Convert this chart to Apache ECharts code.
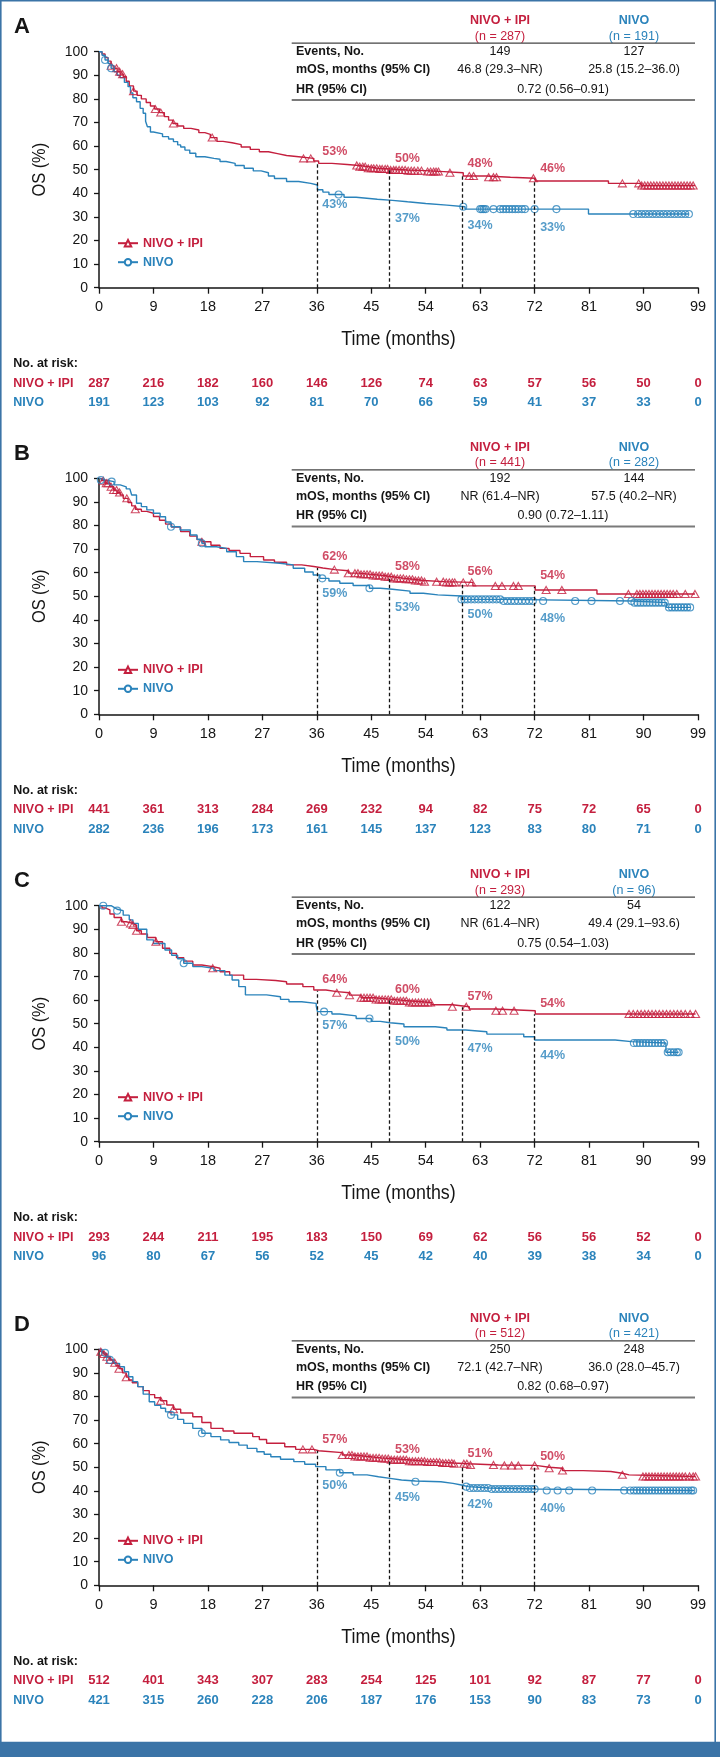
<!DOCTYPE html>
<html><head><meta charset="utf-8">
<script src="https://cdn.jsdelivr.net/npm/echarts@6/dist/echarts.min.js"></script>
<style>html,body{margin:0;padding:0;background:#fff}#c{width:720px;height:1757px}</style>
</head><body><div id="c"></div>
<script>
// ---------- DATA ----------
const timeTicks = [0,9,18,27,36,45,54,63,72,81,90,99];
const landmarks = [36,48,60,72];

// Kaplan-Meier breakpoints [month, OS %] (value holds until next point)
const ipiA = [[0,100],[0.5,99],[1,97.5],[1.5,96],[2,94],[2.5,93],[3,91.5],[3.5,90.5],[4,89.5],[4.5,87.5],[5,85.5],[5.7,83.3],[6.3,81.5],[7,80],[7.8,78.5],[8.5,77],[9.2,75.7],[10,74.2],[10.8,72.5],[11.5,71],[12.2,69.6],[13,68.5],[14,67.5],[15.2,66.8],[16.5,65.7],[17.5,65],[18.4,63.6],[19.5,62],[20.5,61.4],[22,60.6],[23.5,59.6],[25,58.6],[26.5,57.6],[28,56.8],[29.5,56],[31,55.5],[33,54.8],[35.5,53.7],[36.3,52.7],[38.5,52.2],[41,51.8],[43,51.3],[44.5,50.6],[46,50.3],[48.2,49.9],[51,49.6],[54,49.2],[57,48.7],[60.2,47.3],[64,46.8],[68,46.4],[72.1,45.2],[84.2,44.2],[89.6,43.3],[98.5,43.3]];
const nivoA = [[0,100],[0.5,98.5],[1,96.5],[1.5,95],[2,93],[2.5,91.5],[3,90],[3.5,89],[4.2,87],[4.8,85.2],[5.2,82.5],[5.6,80.5],[6.2,78.8],[6.8,76],[7.3,73.9],[7.7,70.5],[8,68.2],[8.5,66],[9,65.2],[10.5,64],[11.5,63],[12.3,61.9],[13,60.5],[13.5,59.6],[14.2,58.3],[15,57],[16,55.5],[17.5,54.8],[19,54.4],[20,53.5],[21,52.7],[22.5,51.8],[24,50.6],[25.5,49.5],[26.8,48.7],[28,47.3],[29,46.3],[31,45],[33,44.2],[35,43.5],[36.1,41.5],[37,40.5],[38,39.5],[40.5,38.3],[42.5,37.5],[46,37],[48.5,36.4],[51,35.7],[54,35],[57.5,34.3],[60.5,33.3],[80.9,31.2],[97.5,31.2]];
const ipiB = [[0,100],[0.4,99],[1,97.9],[1.8,96.4],[2.4,95],[3,94],[3.5,92.9],[4,91.5],[4.8,89.7],[5.4,88.3],[6,86.9],[7,86],[7.9,85.2],[9,83.8],[10,82.2],[11,80.6],[12,79.3],[13.5,77.4],[15,75.5],[16.2,74],[17,73.1],[18.5,71.6],[20,70.3],[21.5,69.4],[23.3,68.2],[25,66.8],[27.2,65.4],[29,64.4],[31,63.3],[33.5,62.6],[35.5,62],[37,61.3],[39,60.8],[41.2,59.8],[43,59.3],[45,58.8],[47,58.3],[48.5,57.6],[50.5,57.2],[52,56.7],[53.6,56.2],[57,55.9],[61.8,54.4],[72.1,52.7],[82.3,51],[98.5,51]];
const nivoB = [[0,100],[0.3,99.3],[1,98.6],[2.5,97.2],[3.5,96.4],[4.5,95.5],[5.1,95],[5.4,92.9],[6.2,89.4],[7,88],[7.9,86.6],[9,85.2],[10.1,83.7],[11,81.5],[11.9,79.5],[13.4,78.1],[15.1,76],[16.2,74.2],[17,72.5],[17.5,71],[19.4,70.3],[21.1,68.9],[22.7,66.8],[23.9,64.7],[26.1,64],[29.9,63.3],[32.1,61.9],[34,60.3],[35.4,59],[36.5,57.6],[38,56.5],[39.8,55.5],[42,54.6],[44.7,53.4],[46.5,53],[48.5,52.2],[51.4,51.3],[53.6,50.6],[56,50.1],[59.9,48.7],[66.8,48],[88.2,47.3],[93.8,45.3],[97.8,45.3]];
const ipiC = [[0,100],[0.5,99],[1.1,98.2],[1.8,96.5],[2.5,95],[3.7,93.2],[4.5,92.5],[5.6,91.8],[6.2,89.4],[7,88],[8,86.5],[9.4,84.7],[10.5,82],[11.7,79.8],[12.8,78],[14,76.5],[15.5,74.9],[17,74.2],[18.8,73.5],[20,72],[21.6,70.6],[23.9,68.8],[26,68.3],[29.2,67.8],[31,66.8],[33.7,65.7],[35.5,64.3],[37.5,63.6],[39.3,63.1],[41.4,62.1],[43.3,61],[45.5,60.3],[48.5,59.7],[51,59],[55,58],[58.4,57.2],[61.2,56.2],[65.5,55.5],[72.1,54.1],[98.6,54.1]];
const nivoC = [[0,100],[2,99.3],[2.5,98.5],[3,97.9],[4,96],[5,94],[5.6,92.5],[6.5,90],[7.9,85.5],[9,84],[10.9,81.2],[12,79],[13,77.5],[14,75.6],[15.5,74.2],[17,73.5],[19,72.5],[20.8,70.6],[22,68.5],[23.1,65.7],[24.2,62.2],[27.7,61.4],[30,60.3],[31.4,59.3],[33.5,58.6],[35.9,57.6],[36.1,55.1],[38.5,54.1],[39.8,53.3],[42.5,52.2],[45,51],[46.5,50.4],[48.1,49.9],[50.4,48.7],[55.6,48.2],[57.5,47.3],[60.6,46.6],[64.1,45.6],[70.2,44.5],[72,43.1],[85.3,42.4],[88,41.8],[93.7,37.9],[95.8,37.9]];
const ipiD = [[0,100],[0.3,99],[0.8,98],[1.3,96.8],[1.8,95.5],[2.3,94.3],[2.8,93],[3.3,91.8],[3.9,90],[4.5,88.2],[4.9,87],[5.5,85.8],[6.4,84.2],[7.3,82.5],[8.3,80.8],[9.2,79.5],[10.2,78.2],[11.2,76.4],[12.3,74.6],[13.5,73],[15.5,71.4],[17,69],[18.5,66.5],[20.5,65.4],[22.3,64.4],[25.4,63],[26.5,61.8],[27.7,60.2],[30.7,58.7],[32.5,57.6],[35.5,57],[36.3,56.2],[40.2,55.2],[42,54.6],[44.5,54],[46.6,53.7],[48.3,53.2],[51,52.6],[54,52.2],[56.5,51.8],[58.6,51.5],[61,51],[66,50.8],[72.2,50],[74.4,49.6],[76.6,48.6],[80,48.2],[84.6,47.5],[86.5,46.8],[87.6,46.1],[98.6,46.1]];
const nivoD = [[0,100],[0.5,98.5],[1.1,96.9],[1.8,95.5],[2.5,94],[3.4,92.6],[4.2,90.5],[4.9,88.4],[5.6,86.3],[6.4,84.2],[7.3,81],[8.3,77.8],[9.2,76.3],[10.2,75],[11,73.5],[11.9,72.2],[13,70.3],[14,68.6],[15.5,66.5],[17,64.4],[18.5,63],[20.1,61.6],[21.5,60.5],[23.1,59.4],[24.5,58],[26.1,56.6],[27.3,55.5],[28.4,54.5],[30,53.4],[32.2,52.4],[34,51.3],[35.8,50.3],[37.5,48.9],[39.8,47.7],[42,46.8],[44.3,46],[46.2,45.3],[48.1,44.6],[50,44.2],[52.3,43.9],[56.5,43.2],[58.5,42.5],[59.9,41.8],[61,41.2],[64.5,40.8],[72.2,40.2],[98.4,40.2]];

// censoring times (months)
const cenIpiA = [2,2.9,3.4,3.9,5.7,9.3,10.2,12.3,18.7,33.8,35,42.6,43.1,43.6,44,44.5,45,45.4,45.9,46.4,46.8,47.3,47.7,48.2,48.7,49.1,49.6,50.1,50.6,51.1,51.6,52.1,52.7,53.3,54.3,54.8,55.3,55.7,56.1,58,61.2,61.9,64.4,65.2,65.7,71.8,86.5,89.2,89.7,90.2,90.7,91.2,91.7,92.2,92.7,93.2,93.7,94.2,94.7,95.2,95.7,96.2,96.7,97.2,97.7,98.2];
const cenNivoA = [1,2,39.6,60.2,63,63.3,63.6,63.9,65.2,66.3,66.8,67.3,67.8,68.3,68.8,69.3,69.9,70.4,72,75.6,88.3,89.1,89.7,90.3,90.9,91.5,92.1,92.7,93.3,93.9,94.5,95.1,95.7,96.3,96.9,97.5];
const cenIpiB = [0.7,1.2,1.5,2,2.4,2.9,3.4,4.6,6,17,38.9,41.2,42.3,42.8,43.3,43.8,44.3,44.8,45.3,45.8,46.3,46.8,47.3,47.8,48.3,48.8,49.3,49.8,50.3,50.8,51.3,51.8,52.3,52.8,53.3,53.8,55.8,56.9,57.4,57.9,58.4,58.8,60.2,61.6,65.5,66.6,68.5,69.3,73.9,76.5,87.5,88.9,89.4,89.9,90.4,90.9,91.4,91.9,92.4,92.9,93.4,93.9,94.4,94.9,95.5,96.9,98.5];
const cenNivoB = [0.3,2.1,11.9,17,36.9,44.7,59.9,60.4,60.9,61.5,62.1,62.7,63.3,63.9,64.5,65.1,65.7,66.3,66.9,67.5,68.1,68.7,69.3,69.9,70.5,71.1,71.7,73.4,78.7,81.4,86.1,88,88.5,89,89.5,90,90.5,91,91.5,92,92.5,93,93.5,94.2,94.7,95.2,95.7,96.2,96.7,97.2,97.7];
const cenIpiC = [3.7,5.2,5.6,6.2,9.4,18.8,39.3,41.4,43.3,43.8,44.3,44.8,45.3,45.8,46.3,46.8,47.3,47.8,48.3,48.8,49.3,49.8,50.3,50.8,51.3,51.8,52.3,52.8,53.3,53.8,54.3,54.8,58.4,60.7,65.6,66.7,68.6,87.6,88.3,89,89.6,90.2,90.8,91.4,92,92.6,93.2,93.8,94.4,95,95.6,96.2,96.9,97.7,98.6];
const cenNivoC = [0.7,3,14,37.2,44.7,88.4,88.9,89.4,89.9,90.4,90.9,91.4,91.9,92.4,92.9,93.4,94,94.5,95,95.5,95.8];
const cenIpiD = [0.3,0.8,1.3,1.8,2.6,3.3,4.5,10.2,12.3,33.7,35.2,40.2,41.3,41.8,42.3,42.8,43.3,43.8,44.3,44.8,45.3,45.8,46.3,46.8,47.3,47.8,48.3,48.8,49.3,49.8,50.3,50.8,51.3,51.8,52.3,52.8,53.3,53.8,54.3,54.8,55.3,55.8,56.3,56.8,57.3,57.8,58.3,58.7,60.3,60.8,61.4,65.2,67,68.2,69.3,72,74.4,76.6,86.5,89.9,90.4,90.9,91.4,91.9,92.4,92.9,93.4,93.9,94.4,94.9,95.4,95.9,96.4,96.9,97.6,98.2,98.6];
const cenNivoD = [1,1.8,11.9,17,39.8,52.3,60.7,61.3,61.9,62.5,63.1,63.7,64.3,64.9,65.5,66.1,66.7,67.3,67.9,68.5,69.1,69.7,70.3,70.9,71.5,72,74,75.8,77.7,81.5,86.8,87.8,88.4,88.9,89.4,89.9,90.4,90.9,91.4,91.9,92.4,92.9,93.4,93.9,94.4,94.9,95.4,95.9,96.4,96.9,97.4,97.9,98.2];

// landmark OS % (at 36, 48, 60, 72 months)
const pctIpiA = [53,50,48,46], pctNivoA = [43,37,34,33];
const pctIpiB = [62,58,56,54], pctNivoB = [59,53,50,48];
const pctIpiC = [64,60,57,54], pctNivoC = [57,50,47,44];
const pctIpiD = [57,53,51,50], pctNivoD = [50,45,42,40];

// number at risk
const riskIpiA = [287,216,182,160,146,126,74,63,57,56,50,0], riskNivoA = [191,123,103,92,81,70,66,59,41,37,33,0];
const riskIpiB = [441,361,313,284,269,232,94,82,75,72,65,0], riskNivoB = [282,236,196,173,161,145,137,123,83,80,71,0];
const riskIpiC = [293,244,211,195,183,150,69,62,56,56,52,0], riskNivoC = [96,80,67,56,52,45,42,40,39,38,34,0];
const riskIpiD = [512,401,343,307,283,254,125,101,92,87,77,0], riskNivoD = [421,315,260,228,206,187,176,153,90,83,73,0];

// summary tables
const tableN = [[287,191],[441,282],[293,96],[512,421]];
const tableEvents = [[149,127],[192,144],[122,54],[250,248]];
const tableMOS = [['46.8 (29.3–NR)','25.8 (15.2–36.0)'],['NR (61.4–NR)','57.5 (40.2–NR)'],['NR (61.4–NR)','49.4 (29.1–93.6)'],['72.1 (42.7–NR)','36.0 (28.0–45.7)']];
const tableHR = ['0.72 (0.56–0.91)','0.90 (0.72–1.11)','0.75 (0.54–1.03)','0.82 (0.68–0.97)'];
const panelLetters = ['A','B','C','D'];

// ---------- LAYOUT / STYLE ----------
const RED = '#c41f3e', BLUE = '#2a83bb', FRAME = '#3b74a7', INK = '#151515';
const FF = '"Liberation Sans", Arial, Helvetica, sans-serif';
const panelTop = [51.7, 478.3, 905.7, 1349.3];
const GL = 99, GW = 599, GH = 236;
const xPx = t => GL + t * GW / 99;

const panels = [
  {ipi:ipiA, nivo:nivoA, cI:cenIpiA, cN:cenNivoA, pI:pctIpiA, pN:pctNivoA, rI:riskIpiA, rN:riskNivoA},
  {ipi:ipiB, nivo:nivoB, cI:cenIpiB, cN:cenNivoB, pI:pctIpiB, pN:pctNivoB, rI:riskIpiB, rN:riskNivoB},
  {ipi:ipiC, nivo:nivoC, cI:cenIpiC, cN:cenNivoC, pI:pctIpiC, pN:pctNivoC, rI:riskIpiC, rN:riskNivoC},
  {ipi:ipiD, nivo:nivoD, cI:cenIpiD, cN:cenNivoD, pI:pctIpiD, pN:pctNivoD, rI:riskIpiD, rN:riskNivoD}
];

function survAt(curve, t) {
  let v = curve[0][1];
  for (const [x, y] of curve) { if (x <= t) v = y; else break; }
  return v;
}

function txt(x, y, text, font, color, align, extra) {
  return Object.assign({
    type: 'text', x: x, y: y, silent: true,
    style: { text: text, font: font, fill: color || INK,
      align: align || 'left', verticalAlign: 'middle',
      textAlign: align || 'left', textVerticalAlign: 'middle' }
  }, extra || {});
}

const grid = [], xAxis = [], yAxis = [], series = [], legend = [], graphic = [];
const axisLine = { show: true, lineStyle: { color: INK, width: 1.5 } };

panels.forEach((p, i) => {
  const T = panelTop[i], AX = T + GH;
  grid.push({ left: GL, top: T, width: GW, height: GH });
  xAxis.push({ gridIndex: i, type: 'value', min: 0, max: 99, interval: 9,
    axisLine: axisLine, axisTick: { show: true, length: 6, lineStyle: { color: INK, width: 1.3 } },
    axisLabel: { fontSize: 14.5, color: INK, margin: 12, fontFamily: FF },
    splitLine: { show: false } });
  yAxis.push({ gridIndex: i, type: 'value', min: 0, max: 100, interval: 10,
    axisLine: axisLine, axisTick: { show: true, length: 5, lineStyle: { color: INK, width: 1.3 } },
    axisLabel: { fontSize: 14, color: INK, margin: 11, fontFamily: FF },
    splitLine: { show: false } });

  series.push({ type: 'line', name: 'NIVO + IPI', xAxisIndex: i, yAxisIndex: i, step: 'end',
    data: p.ipi, symbol: 'emptyTriangle', symbolSize: [9, 8], showSymbol: false,
    lineStyle: { color: RED, width: 1.4 }, itemStyle: { color: RED }, z: 3, silent: true,
    markLine: { silent: true, symbol: ['none', 'none'], label: { show: false },
      lineStyle: { type: [3.5, 2.5], color: INK, width: 1.3 },
      data: landmarks.map((t, k) => [{ coord: [t, 0] }, { coord: [t, p.pI[k]] }]) } });
  series.push({ type: 'line', name: 'NIVO', xAxisIndex: i, yAxisIndex: i, step: 'end',
    data: p.nivo, symbol: 'emptyCircle', symbolSize: 7, showSymbol: false,
    lineStyle: { color: BLUE, width: 1.4 }, itemStyle: { color: BLUE }, z: 3, silent: true });
  series.push({ type: 'scatter', name: 'cens-ipi-' + i, xAxisIndex: i, yAxisIndex: i,
    data: p.cI.map(t => [t, survAt(p.ipi, t)]), symbol: 'triangle', symbolSize: [8, 7], silent: true,
    itemStyle: { color: 'rgba(255,255,255,0)', borderColor: RED, borderWidth: 1.1 }, z: 4 });
  series.push({ type: 'scatter', name: 'cens-nivo-' + i, xAxisIndex: i, yAxisIndex: i,
    data: p.cN.map(t => [t, survAt(p.nivo, t)]), symbol: 'circle', symbolSize: 7, silent: true,
    itemStyle: { color: 'rgba(255,255,255,0)', borderColor: BLUE, borderWidth: 1.1 }, z: 4 });
  series.push({ type: 'scatter', name: 'lab-ipi-' + i, xAxisIndex: i, yAxisIndex: i,
    data: landmarks.map((t, k) => [t, p.pI[k]]), symbolSize: 1, silent: true,
    itemStyle: { color: 'rgba(0,0,0,0)' }, z: 5,
    label: { show: true, position: [6, -17], formatter: d => d.value[1] + '%',
      color: RED, fontWeight: 'bold', fontSize: 12.5, fontFamily: FF } });
  series.push({ type: 'scatter', name: 'lab-nivo-' + i, xAxisIndex: i, yAxisIndex: i,
    data: landmarks.map((t, k) => [t, p.pN[k]]), symbolSize: 1, silent: true,
    itemStyle: { color: 'rgba(0,0,0,0)' }, z: 5,
    label: { show: true, position: [6, 12], formatter: d => d.value[1] + '%',
      color: BLUE, fontWeight: 'bold', fontSize: 12.5, fontFamily: FF } });

  legend.push({ left: 117, top: T + 185, orient: 'vertical', itemWidth: 20, itemHeight: 8,
    itemGap: 6, padding: 0, selectedMode: false,
    textStyle: { fontWeight: 'bold', fontSize: 12.5, fontFamily: FF },
    data: [{ name: 'NIVO + IPI', textStyle: { color: RED } }, { name: 'NIVO', textStyle: { color: BLUE } }] });

  const B = 'bold 12.5px ' + FF, R = '12.5px ' + FF;
  // panel letter
  graphic.push(txt(14, T - 24.7, panelLetters[i], 'bold 22px ' + FF, INK, 'left'));
  // summary table
  graphic.push(txt(500, T - 31, 'NIVO + IPI', B, RED, 'center'));
  graphic.push(txt(500, T - 15.6, '(n = ' + tableN[i][0] + ')', R, RED, 'center'));
  graphic.push(txt(634, T - 31, 'NIVO', B, BLUE, 'center'));
  graphic.push(txt(634, T - 15.6, '(n = ' + tableN[i][1] + ')', R, BLUE, 'center'));
  graphic.push({ type: 'line', silent: true, shape: { x1: 291.7, y1: T - 8.5, x2: 695, y2: T - 8.5 }, style: { stroke: '#444', lineWidth: 1.3 } });
  graphic.push({ type: 'line', silent: true, shape: { x1: 291.7, y1: T + 48.3, x2: 695, y2: T + 48.3 }, style: { stroke: '#7a7a7a', lineWidth: 2 } });
  graphic.push(txt(296, T + 0.3, 'Events, No.', B, INK, 'left'));
  graphic.push(txt(296, T + 18.3, 'mOS, months (95% CI)', B, INK, 'left'));
  graphic.push(txt(296, T + 37.5, 'HR (95% CI)', B, INK, 'left'));
  graphic.push(txt(500, T + 0.3, String(tableEvents[i][0]), R, INK, 'center'));
  graphic.push(txt(634, T + 0.3, String(tableEvents[i][1]), R, INK, 'center'));
  graphic.push(txt(500, T + 18.3, tableMOS[i][0], R, INK, 'center'));
  graphic.push(txt(634, T + 18.3, tableMOS[i][1], R, INK, 'center'));
  graphic.push(txt(563, T + 37.5, tableHR[i], R, INK, 'center'));
  // axis titles
  graphic.push(txt(40, T + 118, 'OS (%)', '19px ' + FF, INK, 'center', { rotation: Math.PI / 2, scaleX: 0.86 }));
  graphic.push(txt(GL + GW / 2, AX + 51.6, 'Time (months)', '21px ' + FF, INK, 'center', { scaleX: 0.85 }));
  // number at risk
  graphic.push(txt(13.3, AX + 76.3, 'No. at risk:', B, INK, 'left'));
  graphic.push(txt(13.3, AX + 95.6, 'NIVO + IPI', B, RED, 'left'));
  graphic.push(txt(13.3, AX + 115, 'NIVO', B, BLUE, 'left'));
  timeTicks.forEach((t, k) => {
    graphic.push(txt(xPx(t), AX + 95.6, String(p.rI[k]), 'bold 13px ' + FF, RED, 'center'));
    graphic.push(txt(xPx(t), AX + 115, String(p.rN[k]), 'bold 13px ' + FF, BLUE, 'center'));
  });
});

// frame
graphic.push({ type: 'rect', silent: true, shape: { x: 0, y: 0, width: 1.6, height: 1742 }, style: { fill: FRAME } });
graphic.push({ type: 'rect', silent: true, shape: { x: 0, y: 0, width: 716, height: 1.6 }, style: { fill: FRAME } });
graphic.push({ type: 'rect', silent: true, shape: { x: 714.4, y: 0, width: 1.6, height: 1742 }, style: { fill: FRAME } });
graphic.push({ type: 'rect', silent: true, shape: { x: 0, y: 1741.7, width: 720, height: 15.3 }, style: { fill: FRAME } });

const chart = echarts.init(document.getElementById('c'), null, { renderer: 'canvas' });
chart.setOption({
  animation: false,
  backgroundColor: '#fff',
  grid: grid, xAxis: xAxis, yAxis: yAxis, series: series, legend: legend,
  graphic: { elements: graphic }
});
</script>
</body></html>
